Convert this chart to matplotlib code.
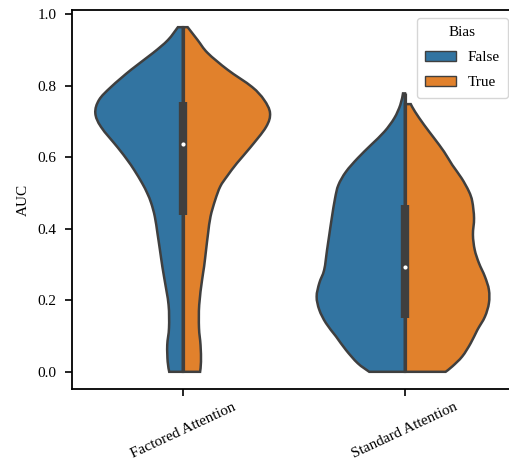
import matplotlib
matplotlib.use('Agg')
import matplotlib.pyplot as plt
from matplotlib.patches import Patch, PathPatch
from matplotlib.path import Path

plt.rcParams['font.family'] = ['Liberation Serif', 'DejaVu Serif']
plt.rcParams['font.size'] = 11

categories = ['Factored Attention', 'Standard Attention']
hue_labels = ['False', 'True']
colors = ['#3274a1', '#e1812c']
gray = '#3f3f3f'

# violin outlines: AUC level and half width (x units)
factored_false_y = [0.963, 0.927, 0.891, 0.844, 0.796, 0.760, 0.723, 0.684, 0.626, 0.592, 0.564, 0.527,
                    0.499, 0.471, 0.434, 0.387, 0.341, 0.294, 0.257, 0.187, 0.123, 0.075, 0.028, 0.0]
factored_false_w = [0.023, 0.068, 0.135, 0.234, 0.324, 0.378, 0.395, 0.369, 0.293, 0.251, 0.220, 0.184,
                    0.161, 0.143, 0.127, 0.115, 0.104, 0.093, 0.083, 0.065, 0.063, 0.071, 0.069, 0.062]
factored_true_y = [0.963, 0.927, 0.891, 0.844, 0.796, 0.760, 0.723, 0.684, 0.626, 0.583, 0.546, 0.518,
                   0.480, 0.434, 0.387, 0.341, 0.294, 0.257, 0.187, 0.123, 0.075, 0.028, 0.0]
factored_true_w = [0.021, 0.066, 0.111, 0.201, 0.311, 0.365, 0.392, 0.374, 0.302, 0.243, 0.198, 0.168,
                   0.145, 0.124, 0.113, 0.104, 0.095, 0.086, 0.073, 0.072, 0.079, 0.081, 0.077]

standard_false_y = [0.778, 0.746, 0.709, 0.671, 0.634, 0.597, 0.559, 0.522, 0.485, 0.429, 0.383,
                    0.341, 0.285, 0.248, 0.210, 0.173, 0.136, 0.099, 0.061, 0.024, 0.0]
standard_false_w = [0.009, 0.021, 0.048, 0.093, 0.153, 0.213, 0.266, 0.300, 0.315, 0.330, 0.341,
                    0.351, 0.364, 0.386, 0.398, 0.386, 0.356, 0.311, 0.266, 0.213, 0.161]
standard_true_y = [0.748, 0.727, 0.690, 0.653, 0.615, 0.578, 0.541, 0.504, 0.476, 0.429, 0.383,
                   0.341, 0.304, 0.266, 0.229, 0.192, 0.154, 0.117, 0.080, 0.043, 0.015, 0.0]
standard_true_w = [0.026, 0.045, 0.086, 0.131, 0.176, 0.213, 0.255, 0.288, 0.303, 0.311, 0.306,
                   0.314, 0.333, 0.360, 0.378, 0.378, 0.360, 0.326, 0.296, 0.258, 0.213, 0.183]

# inner box: min, q1, median, q3, max
box_min = [0.0, 0.0]
box_q1 = [0.437, 0.150]
box_median = [0.636, 0.292]
box_q3 = [0.755, 0.467]
box_max = [0.963, 0.778]

halves = [
    (0, factored_false_y, factored_false_w, factored_true_y, factored_true_w),
    (1, standard_false_y, standard_false_w, standard_true_y, standard_true_w),
]


def half_violin(pos, ys, ws, side):
    # closed outline: centre line plus a smooth (catmull-rom) outer edge
    pts = [(pos + side * w, y) for y, w in zip(ys, ws)]
    verts = [(pos, ys[0]), pts[0]]
    codes = [Path.MOVETO, Path.LINETO]
    n = len(pts)
    for i in range(n - 1):
        p0 = pts[max(i - 1, 0)]
        p1 = pts[i]
        p2 = pts[i + 1]
        p3 = pts[min(i + 2, n - 1)]
        c1 = (p1[0] + (p2[0] - p0[0]) / 6, p1[1] + (p2[1] - p0[1]) / 6)
        c2 = (p2[0] - (p3[0] - p1[0]) / 6, p2[1] - (p3[1] - p1[1]) / 6)
        verts += [c1, c2, p2]
        codes += [Path.CURVE4] * 3
    verts += [(pos, ys[-1]), (pos, ys[0])]
    codes += [Path.LINETO, Path.CLOSEPOLY]
    return Path(verts, codes)


fig = plt.figure(figsize=(5.09, 4.70), dpi=100)
ax = fig.add_axes([72 / 509, 81 / 470, 444 / 509, 379 / 470])

for pos, yf, wf, yt, wt in halves:
    ax.add_patch(PathPatch(half_violin(pos, yf, wf, -1), facecolor=colors[0],
                           edgecolor=gray, linewidth=1.8, zorder=2))
    ax.add_patch(PathPatch(half_violin(pos, yt, wt, 1), facecolor=colors[1],
                           edgecolor=gray, linewidth=1.8, zorder=2))

for i in range(len(categories)):
    ax.plot([i, i], [box_min[i], box_max[i]], color=gray, lw=2.3, zorder=3,
            solid_capstyle='butt')
    ax.plot([i, i], [box_q1[i], box_q3[i]], color=gray, lw=6, zorder=3,
            solid_capstyle='butt')
    ax.scatter([i], [box_median[i]], s=9, color='white', zorder=4, linewidths=0)

ax.set_xlim(-0.5, 1.5)
ax.set_ylim(-0.048, 1.011)
ax.set_xticks(range(len(categories)))
ax.set_xticklabels(categories, rotation=25, ha='center')
ax.set_ylabel('AUC', labelpad=5.5)
for s in ax.spines.values():
    s.set_linewidth(1.3)
ax.tick_params(width=1.2, length=5)
ax.tick_params(axis='y', pad=6)

handles = [Patch(facecolor=c, edgecolor=gray, label=l) for c, l in zip(colors, hue_labels)]
ax.legend(handles=handles, title='Bias', loc='upper right', labelspacing=0.75,
          borderpad=0.55)

fig.savefig('out.png', dpi=100)
